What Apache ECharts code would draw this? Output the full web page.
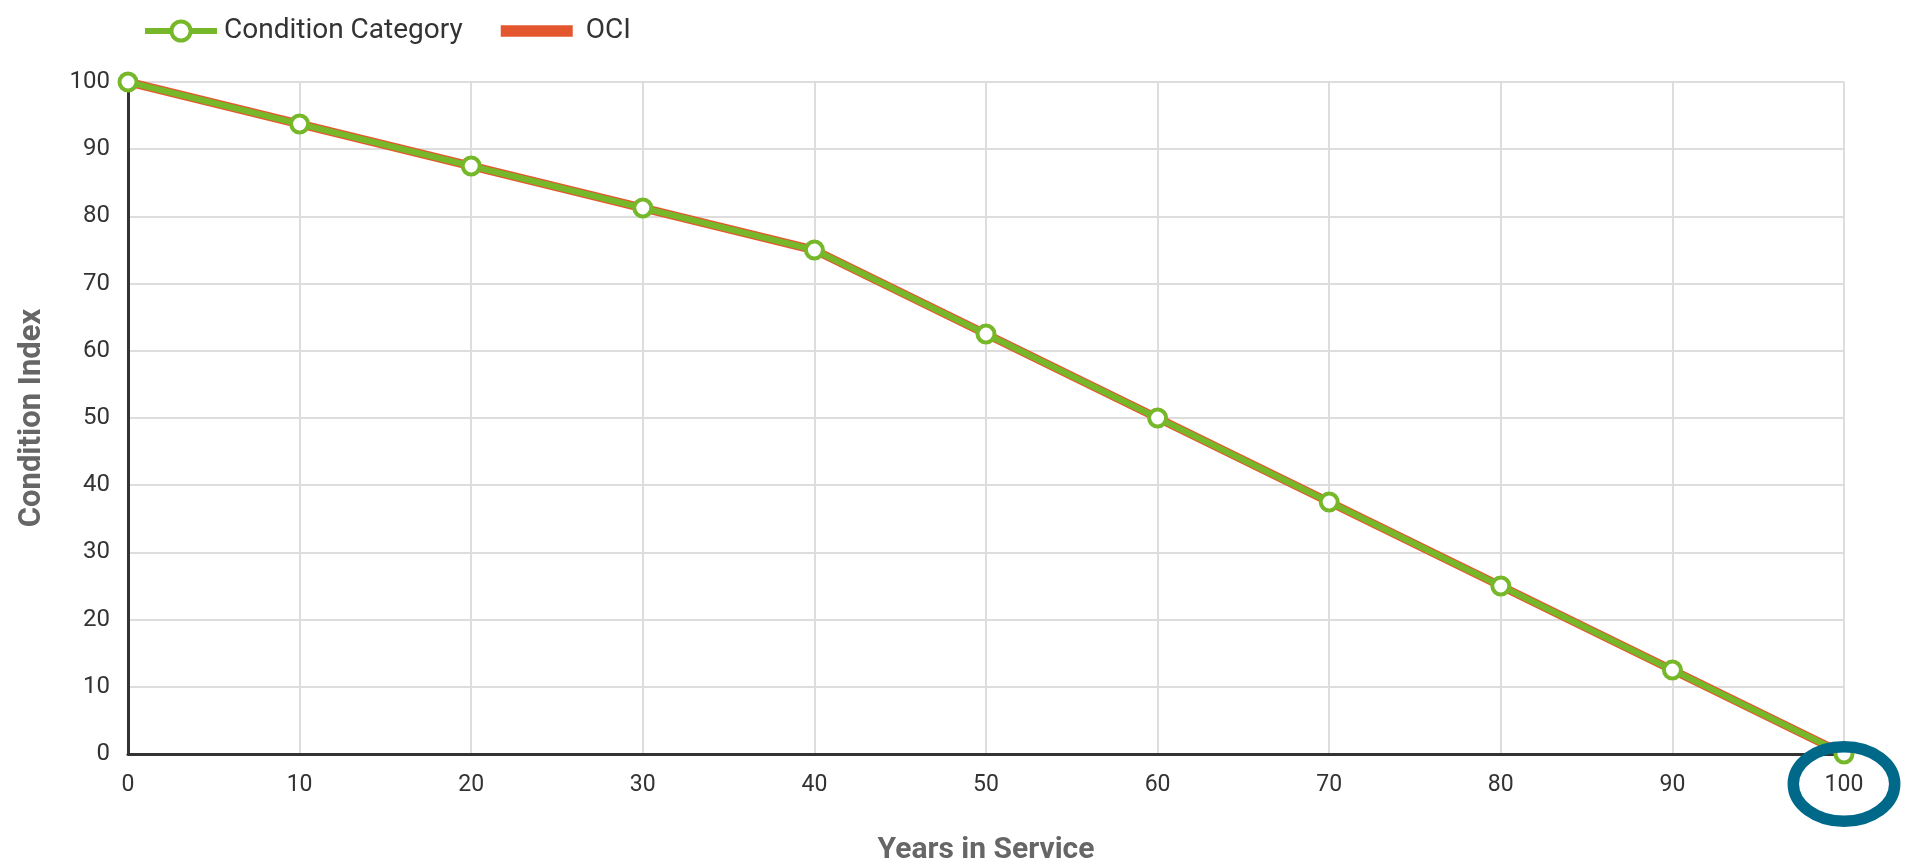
<!DOCTYPE html>
<html>
<head>
<meta charset="utf-8">
<script src="https://cdn.jsdelivr.net/npm/echarts@6/dist/echarts.min.js"></script>
<style>
html,body{margin:0;padding:0;background:#fff;}
#chart{width:1924px;height:861px;}
</style>
</head>
<body>
<div id="chart"></div>
<script>
const years = [0, 10, 20, 30, 40, 50, 60, 70, 80, 90, 100];
const conditionCategory = [100, 93.75, 87.5, 81.25, 75, 62.5, 50, 37.5, 25, 12.5, 0];
const oci = [100, 93.75, 87.5, 81.25, 75, 62.5, 50, 37.5, 25, 12.5, 0];
const seriesNames = ['Condition Category', 'OCI'];
const xAxisTitle = 'Years in Service';
const yAxisTitle = 'Condition Index';

const GREEN = '#76B82A';
const RED = '#E4572E';
const FONT = 'Roboto';

const chart = echarts.init(document.getElementById('chart'), null, {renderer: 'canvas'});

function pairs(xs, ys) { return xs.map((x, i) => [x, ys[i]]); }

const option = {
  animation: false,
  backgroundColor: '#fff',
  textStyle: {fontFamily: FONT},
  legend: {
    left: 137,
    top: 12,
    itemWidth: 72,
    itemHeight: 24,
    itemGap: 38,
    textStyle: {fontFamily: FONT, fontSize: 28, color: '#333', padding: [0, 0, 0, 2]},
    data: [
      {name: seriesNames[0], lineStyle: {width: 6, color: GREEN},
       itemStyle: {color: '#fff', borderColor: GREEN, borderWidth: 4}},
      {name: seriesNames[1], icon: 'path://M0,0 M0,6.2 L72,6.2 L72,17.8 L0,17.8 Z M72,24',
       itemStyle: {color: RED}, textStyle: {padding: [0, 0, 0, 8]}}
    ]
  },
  grid: {left: 128, right: 80, top: 82, bottom: 107, containLabel: false, outerBoundsMode: 'none'},
  xAxis: {
    type: 'value', min: 0, max: 100, interval: 10,
    name: xAxisTitle, nameLocation: 'middle', nameGap: 81,
    nameTextStyle: {fontFamily: FONT, fontSize: 30, fontWeight: 'bold', color: '#666'},
    axisLine: {show: true, onZero: false, lineStyle: {color: '#333', width: 3}},
    axisTick: {show: false},
    axisLabel: {fontFamily: FONT, fontSize: 23, color: '#333', margin: 20},
    splitLine: {show: true, lineStyle: {color: '#ddd', width: 2}}
  },
  yAxis: {
    type: 'value', min: 0, max: 100, interval: 10,
    name: yAxisTitle, nameLocation: 'middle', nameGap: 80,
    nameTextStyle: {fontFamily: FONT, fontSize: 31, fontWeight: 'bold', color: '#666'},
    axisLine: {show: true, onZero: false, lineStyle: {color: '#333', width: 3}},
    axisTick: {show: false},
    axisLabel: {fontFamily: FONT, fontSize: 24, color: '#333', margin: 18},
    splitLine: {show: true, lineStyle: {color: '#ddd', width: 2}}
  },
  series: [
    {
      name: seriesNames[1], type: 'line', data: pairs(years, oci),
      showSymbol: false, symbol: 'none', z: 2,
      lineStyle: {color: RED, width: 8.5}, itemStyle: {color: RED}
    },
    {
      name: seriesNames[0], type: 'line', data: pairs(years, conditionCategory),
      symbol: 'circle', symbolSize: 17, z: 3,
      lineStyle: {color: GREEN, width: 6},
      itemStyle: {color: '#fff', borderColor: GREEN, borderWidth: 4}
    }
  ]
};
chart.setOption(option);

// annotation ellipse around the last x tick label
const p = chart.convertToPixel({gridIndex: 0}, [years[years.length - 1], 0]);
chart.setOption({
  graphic: [{
    type: 'ellipse', z: 100,
    shape: {cx: p[0], cy: p[1] + 30, rx: 50.7, ry: 37.3},
    style: {fill: 'none', stroke: '#00698A', lineWidth: 11.5}
  }]
});
</script>
</body>
</html>
